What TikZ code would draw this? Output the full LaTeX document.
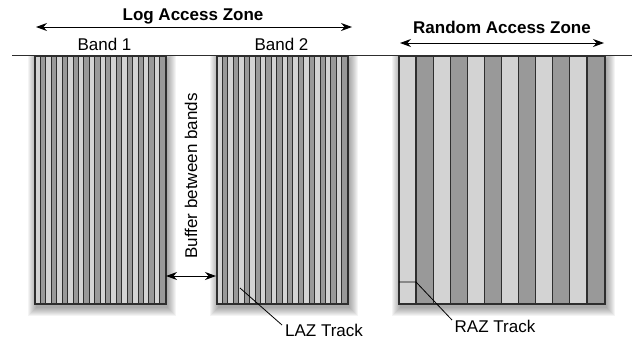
\documentclass[tikz,border=0pt]{standalone}
\usepackage{fontspec}
\setmainfont{Liberation Sans}
\usetikzlibrary{arrows.meta}
\definecolor{lite}{HTML}{D3D3D3}
\definecolor{dark}{HTML}{999999}
\definecolor{edge}{HTML}{2E2E2E}
\tikzset{
  bandbox/.style={fill=lite, draw=edge, line width=1.3pt, inner sep=0pt, anchor=north west},
  lbl/.style={font=\fontsize{17}{20}\selectfont, inner sep=0pt},
  blbl/.style={font=\bfseries\fontsize{17}{20}\selectfont, inner sep=0pt},
  zarrow/.style={line width=0.9pt, {Stealth[length=11pt,width=8pt]}-{Stealth[length=11pt,width=8pt]}},
  pointer/.style={line width=0.8pt, black},
  shadowlayer/.style={fill=black, fill opacity=0.045}
}
\begin{document}
\begin{tikzpicture}[x=1pt,y=-1pt]
\useasboundingbox (0,0) rectangle (636,341);
% soft drop shadows
\foreach \xa/\xb in {35/165,217/347,399/604}{
  \foreach \k in {1,...,9}{
    \fill[shadowlayer] ({\xa+2-\k},{60-\k}) rectangle ({\xb+2+\k},{307+\k});
  }
}
% bands
\node[bandbox, minimum width=130pt, minimum height=247pt] (b1) at (35,56) {};
\node[bandbox, minimum width=130pt, minimum height=247pt] (b2) at (217,56) {};
\node[bandbox, minimum width=205pt, minimum height=247pt] (raz) at (399,56) {};
% stripes of the log access zone bands
\foreach \x in {35,217}{
  \foreach \i in {1,3,...,23}{
    \fill[dark] ({\x+\i*130/24},56) rectangle ({\x+(\i+1)*130/24},303);
  }
  \foreach \i in {1,...,23}{
    \draw[edge, line width=0.7pt] ({\x+\i*130/24},56) -- ({\x+\i*130/24},303);
  }
}
% stripes of the random access zone
\foreach \i in {1,3,...,11}{
  \fill[dark] ({399+\i*205/12},56) rectangle ({399+(\i+1)*205/12},303);
}
\foreach \i in {1,...,11}{
  \draw[edge, line width=1.3pt] ({399+\i*205/12},56) -- ({399+\i*205/12},303);
}
\foreach \n in {b1,b2,raz}{
  \draw[edge, line width=1.3pt] (\n.north west) rectangle (\n.south east);
}
% top line
\fill[white] (0,0) rectangle (636,54.6);
\draw[edge, line width=0.8pt] (12,55) -- (632,55);
% labels
\node[blbl] (lazt) at (193,16) {Log Access Zone};
\node[lbl] (band1) at (104.5,44) {Band 1};
\node[lbl] (band2) at (281.5,44) {Band 2};
\node[blbl] (razt) at (502,27) {Random Access Zone};
\coordinate (laL) at (36,27);
\coordinate (laR) at (352,27);
\draw[zarrow] (laL) -- (laR);
\coordinate (raL) at (400,43);
\coordinate (raR) at (604,43);
\draw[zarrow] (raL) -- (raR);
% buffer
\node[lbl, rotate=90] (buf) at (191,176) {Buffer between bands};
\coordinate (bufL) at (166,276);
\coordinate (bufR) at (216,276);
\draw[zarrow] (bufL) -- (bufR);
% LAZ track
\node[lbl] (laztr) at (324,330) {LAZ Track};
\coordinate (lazpt) at (240,288);
\coordinate (lazend) at (282,325);
\draw[pointer] (lazpt) -- (lazend);
% RAZ track
\node[lbl] (raztr) at (495,326) {RAZ Track};
\coordinate (razpt) at (399,282);
\coordinate (razmid) at (416,282);
\coordinate (razend) at (452,320);
\draw[pointer] (razpt) -- (razmid) -- (razend);
\end{tikzpicture}
\end{document}
